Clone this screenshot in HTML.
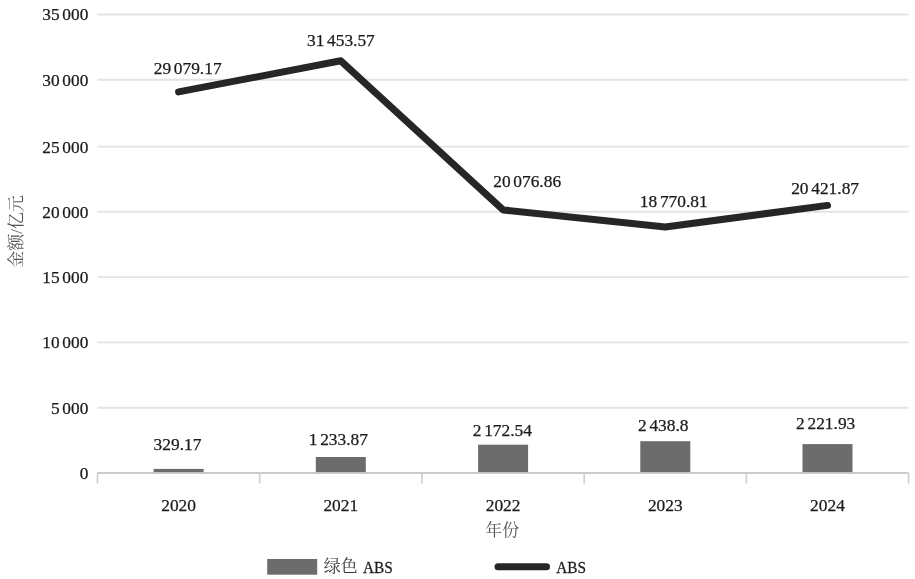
<!DOCTYPE html>
<html lang="zh"><head><meta charset="utf-8"><title>ABS</title>
<style>
html,body{margin:0;padding:0;background:#fff;}
body{width:915px;height:579px;overflow:hidden;}
svg{display:block;}
text{font-family:"Liberation Serif","Noto Serif CJK SC",serif;font-size:17.4px;fill:#1a1a1a;word-spacing:-1.7px;stroke:#1a1a1a;stroke-width:0.25px;}
.ax{font-size:17.3px;word-spacing:-1.5px;}
.cjk{fill:#555;stroke:none;font-size:17px;}
.lg{fill:#333;stroke:none;font-size:17px;}
</style></head><body>
<svg width="915" height="579" viewBox="0 0 915 579">
<rect width="915" height="579" fill="#fff"/>
<line x1="97.5" y1="407.8" x2="908.6" y2="407.8" stroke="#e3e3e3" stroke-width="1.9"/>
<line x1="97.5" y1="342.4" x2="908.6" y2="342.4" stroke="#e3e3e3" stroke-width="1.9"/>
<line x1="97.5" y1="277.1" x2="908.6" y2="277.1" stroke="#e3e3e3" stroke-width="1.9"/>
<line x1="97.5" y1="211.8" x2="908.6" y2="211.8" stroke="#e3e3e3" stroke-width="1.9"/>
<line x1="97.5" y1="146.6" x2="908.6" y2="146.6" stroke="#e3e3e3" stroke-width="1.9"/>
<line x1="97.5" y1="79.7" x2="908.6" y2="79.7" stroke="#e3e3e3" stroke-width="1.9"/>
<line x1="97.5" y1="14.5" x2="908.6" y2="14.5" stroke="#e3e3e3" stroke-width="1.9"/>
<line x1="97.5" y1="473.0" x2="908.6" y2="473.0" stroke="#cbcbcb" stroke-width="1.9"/>
<line x1="97.5" y1="473.0" x2="97.5" y2="483.5" stroke="#d0d0d0" stroke-width="1.7"/>
<line x1="259.7" y1="473.0" x2="259.7" y2="483.5" stroke="#d0d0d0" stroke-width="1.7"/>
<line x1="421.9" y1="473.0" x2="421.9" y2="483.5" stroke="#d0d0d0" stroke-width="1.7"/>
<line x1="584.2" y1="473.0" x2="584.2" y2="483.5" stroke="#d0d0d0" stroke-width="1.7"/>
<line x1="746.4" y1="473.0" x2="746.4" y2="483.5" stroke="#d0d0d0" stroke-width="1.7"/>
<line x1="908.6" y1="473.0" x2="908.6" y2="483.5" stroke="#d0d0d0" stroke-width="1.7"/>
<text x="88.3" y="478.9" text-anchor="end" class="ax">0</text>
<text x="88.3" y="413.7" text-anchor="end" class="ax">5 000</text>
<text x="88.3" y="348.3" text-anchor="end" class="ax">10 000</text>
<text x="88.3" y="283.0" text-anchor="end" class="ax">15 000</text>
<text x="88.3" y="217.7" text-anchor="end" class="ax">20 000</text>
<text x="88.3" y="152.5" text-anchor="end" class="ax">25 000</text>
<text x="88.3" y="85.6" text-anchor="end" class="ax">30 000</text>
<text x="88.3" y="20.4" text-anchor="end" class="ax">35 000</text>
<rect x="153.6" y="468.9" width="50" height="3.2" fill="#6c6c6c"/>
<rect x="315.8" y="457.0" width="50" height="15.1" fill="#6c6c6c"/>
<rect x="478.1" y="444.7" width="50" height="27.4" fill="#6c6c6c"/>
<rect x="640.3" y="441.2" width="50" height="30.9" fill="#6c6c6c"/>
<rect x="802.5" y="444.1" width="50" height="28.0" fill="#6c6c6c"/>
<polyline points="178.6,91.9 340.8,60.8 503.1,209.9 665.3,227.0 827.5,205.4" fill="none" stroke="#262626" stroke-width="7" stroke-linejoin="round" stroke-linecap="round"/>
<text x="187.7" y="73.9" text-anchor="middle">29 079.17</text>
<text x="340.9" y="45.6" text-anchor="middle">31 453.57</text>
<text x="527.2" y="186.9" text-anchor="middle">20 076.86</text>
<text x="673.8" y="206.7" text-anchor="middle">18 770.81</text>
<text x="825.1" y="193.6" text-anchor="middle">20 421.87</text>
<text x="177.5" y="449.5" text-anchor="middle">329.17</text>
<text x="338.4" y="444.5" text-anchor="middle">1 233.87</text>
<text x="502.4" y="436" text-anchor="middle">2 172.54</text>
<text x="663.3" y="431" text-anchor="middle">2 438.8</text>
<text x="825.7" y="429" text-anchor="middle">2 221.93</text>
<text x="178.6" y="510.7" text-anchor="middle">2020</text>
<text x="340.8" y="510.7" text-anchor="middle">2021</text>
<text x="503.1" y="510.7" text-anchor="middle">2022</text>
<text x="665.3" y="510.7" text-anchor="middle">2023</text>
<text x="827.5" y="510.7" text-anchor="middle">2024</text>
<text class="cjk" x="502.3" y="535.9" text-anchor="middle">年份</text>
<text class="cjk" transform="translate(22.2,231.4) rotate(-90)" text-anchor="middle">金额/亿元</text>
<rect x="267.2" y="559" width="50" height="15.7" fill="#6c6c6c"/>
<text class="lg" x="323.8" y="572.4">绿色</text>
<text transform="translate(362.9,572.6) scale(0.886,1)" style="font-size:17.3px">ABS</text>
<line x1="498" y1="566.8" x2="546.5" y2="566.8" stroke="#262626" stroke-width="7" stroke-linecap="round"/>
<text transform="translate(556.3,572.6) scale(0.886,1)" style="font-size:17.3px">ABS</text>
</svg></body></html>
